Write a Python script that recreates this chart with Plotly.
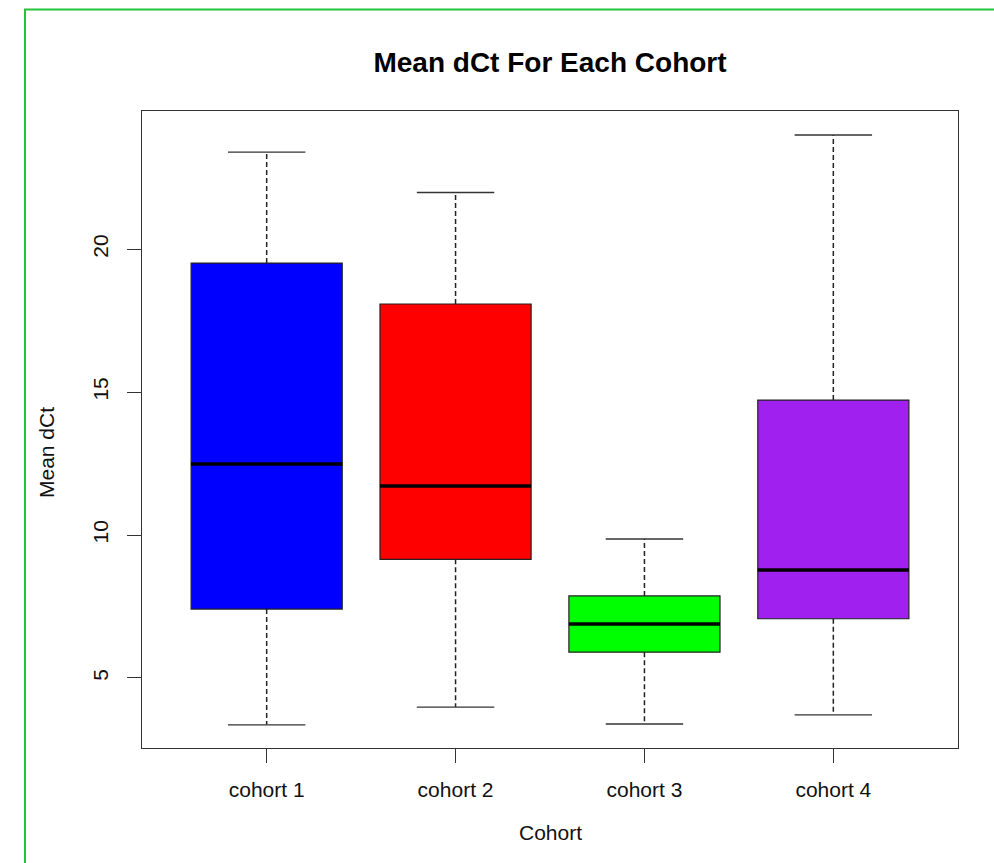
import plotly.graph_objects as go

cohorts = ["cohort 1", "cohort 2", "cohort 3", "cohort 4"]
lower_whisker = [3.36, 3.98, 3.39, 3.71]
q1 = [7.41, 9.15, 5.90, 7.07]
median = [12.48, 11.71, 6.89, 8.78]
q3 = [19.51, 18.08, 7.87, 14.72]
upper_whisker = [23.39, 21.98, 9.86, 23.99]
fill_colors = ["#0000ff", "#ff0000", "#00ff00", "#a020f0"]
y_ticks = [5, 10, 15, 20]

FONT = "Liberation Sans, Arial, sans-serif"
positions = list(range(1, len(cohorts) + 1))
BOX_W = 0.8
CAP_W = 0.41

fig = go.Figure()

wx, wy = [], []
cx, cy = [], []
mx, my = [], []
for p, lo, a, m, b, hi in zip(positions, lower_whisker, q1, median, q3, upper_whisker):
    wx += [p, p, None, p, p, None]
    wy += [b, hi, None, a, lo, None]
    cx += [p - CAP_W / 2, p + CAP_W / 2, None, p - CAP_W / 2, p + CAP_W / 2, None]
    cy += [hi, hi, None, lo, lo, None]
    mx += [p - BOX_W / 2, p + BOX_W / 2, None]
    my += [m, m, None]

fig.add_trace(go.Scatter(x=wx, y=wy, mode="lines", line=dict(color="#222", width=1.5, dash="5px,3px"),
                         hoverinfo="skip", showlegend=False))
fig.add_trace(go.Scatter(x=cx, y=cy, mode="lines", line=dict(color="#333", width=1.3),
                         hoverinfo="skip", showlegend=False))

for p, name, a, m, b, col in zip(positions, cohorts, q1, median, q3, fill_colors):
    fig.add_trace(go.Box(
        x=[p], q1=[a], median=[m], q3=[b], lowerfence=[a], upperfence=[b],
        width=BOX_W, whiskerwidth=0, fillcolor=col,
        line=dict(color="#222", width=1.2), name=name, boxpoints=False,
        showlegend=False,
    ))

fig.add_trace(go.Scatter(x=mx, y=my, mode="lines", line=dict(color="#000", width=3.5),
                         hoverinfo="skip", showlegend=False))

L, R, T, B = 142, 36, 111, 115
W, H = 994, 863
pw, ph = W - L - R, H - T - B

def px_to_paper_x(px):
    return (px - L) / pw

def px_to_paper_y(py):
    return (H - B - py) / ph

fig.update_layout(
    width=W, height=H,
    margin=dict(l=L, r=R, t=T, b=B),
    paper_bgcolor="white", plot_bgcolor="white",
    font=dict(family=FONT, color="#111"),
    showlegend=False,
    title=dict(text="<b>Mean dCt For Each Cohort</b>", x=0.5, xref="paper", xanchor="center",
               y=1 - 62 / H, yref="container", yanchor="middle",
               font=dict(size=28, family=FONT, color="#000")),
    xaxis=dict(range=[0.34, 4.66], tickmode="array", tickvals=positions, ticktext=cohorts,
               showgrid=False, zeroline=False, showline=True, mirror=True,
               linecolor="#333", linewidth=1.2, ticks="outside", ticklen=14, tickcolor="#333",
               tickwidth=1.2, tickfont=dict(size=21, family=FONT, color="#111"),
               ticklabelstandoff=9),
    yaxis=dict(range=[2.55, 24.83], tickmode="array", tickvals=y_ticks,
               showgrid=False, zeroline=False, showline=True, mirror=True,
               linecolor="#333", linewidth=1.2, ticks="outside", ticklen=14, tickcolor="#333",
               tickwidth=1.2, tickangle=-90, tickfont=dict(size=21, family=FONT, color="#111"),
               ticklabelstandoff=11),
    annotations=[
        dict(text="Cohort", xref="paper", yref="paper", x=0.5, y=px_to_paper_y(832),
             xanchor="center", yanchor="middle", showarrow=False,
             font=dict(size=21, family=FONT, color="#111")),
        dict(text="Mean dCt", xref="paper", yref="paper", x=px_to_paper_x(46), y=px_to_paper_y(453),
             xanchor="center", yanchor="middle", textangle=-90, showarrow=False,
             font=dict(size=21, family=FONT, color="#111")),
    ],
    shapes=[
        dict(type="rect", xref="paper", yref="paper",
             x0=px_to_paper_x(25), x1=px_to_paper_x(1100),
             y0=px_to_paper_y(1000), y1=px_to_paper_y(9.5),
             line=dict(color="#22c43a", width=2), fillcolor="rgba(0,0,0,0)", layer="above"),
    ],
)

fig.write_html("out.html")
